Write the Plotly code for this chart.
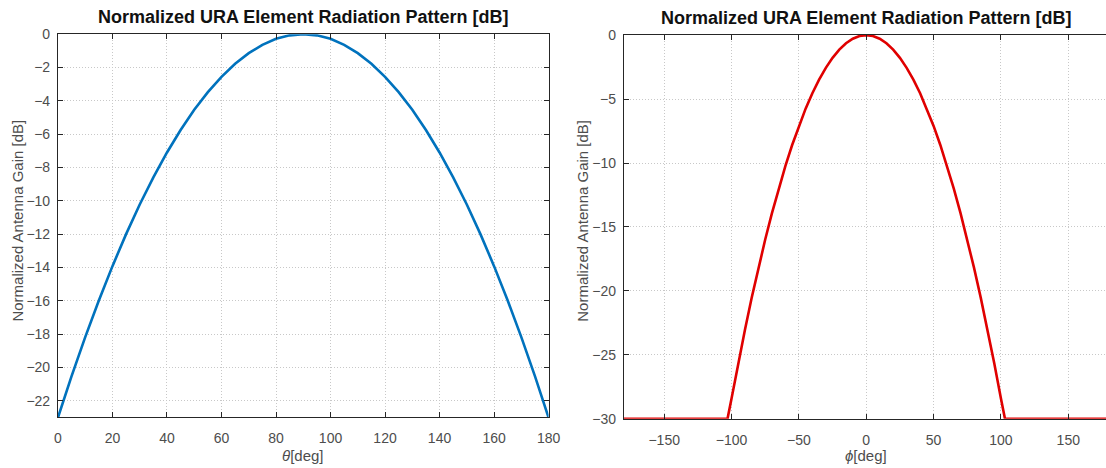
import plotly.graph_objects as go

# elevation cut (theta) values
theta = list(range(0, 181, 5))
gain_theta = [-23.01, -20.52, -18.18, -15.98, -13.92, -12.00, -10.22, -8.59, -7.10,
              -5.75, -4.54, -3.48, -2.56, -1.78, -1.14, -0.64, -0.28, -0.07, 0.0,
              -0.07, -0.28, -0.64, -1.14, -1.78, -2.56, -3.48, -4.54, -5.75, -7.10,
              -8.59, -10.22, -12.00, -13.92, -15.98, -18.18, -20.52, -23.01]

# azimuth cut (phi) values
phi = [-180, -103] + list(range(-100, 101, 5)) + [103, 180]
gain_phi = [-30.0, -30.0, -28.40, -25.63, -23.01, -20.52, -18.18, -15.98, -13.92, -12.00,
            -10.22, -8.59, -7.10, -5.75, -4.54, -3.48, -2.56, -1.78, -1.14, -0.64,
            -0.28, -0.07, 0.0, -0.07, -0.28, -0.64, -1.14, -1.78, -2.56, -3.48,
            -4.54, -5.75, -7.10, -8.59, -10.22, -12.00, -13.92, -15.98, -18.18,
            -20.52, -23.01, -25.63, -28.40, -30.0, -30.0]

title = "Normalized URA Element Radiation Pattern [dB]"
ylab = "Normalized Antenna Gain [dB]"

font = "Liberation Sans, Arial, sans-serif"
tick_col = "#4d4d4d"
grid_col = "#c8c8c8"

fig = go.Figure()
fig.add_trace(go.Scatter(x=theta, y=gain_theta, mode="lines",
                         line=dict(color="#0072BD", width=2.6),
                         xaxis="x", yaxis="y", showlegend=False))
fig.add_trace(go.Scatter(x=phi, y=gain_phi, mode="lines",
                         line=dict(color="#E00000", width=2.6),
                         xaxis="x2", yaxis="y2", showlegend=False))

common = dict(showline=True, linecolor="#262626", linewidth=1, ticks="inside",
              ticklen=5, tickcolor="#262626", showgrid=True, gridcolor=grid_col,
              griddash="1px,2px", gridwidth=1, zeroline=False, automargin=False,
              tickfont=dict(family=font, size=14, color=tick_col))


def note(text, x, y, size=15, color=tick_col, angle=0):
    return dict(text=text, x=x, y=y, xref="paper", yref="paper", xanchor="center",
                yanchor="middle", textangle=angle, showarrow=False,
                font=dict(family=font, size=size, color=color))


fig.update_layout(
    width=1106, height=468,
    margin=dict(l=0, r=0, t=0, b=0),
    plot_bgcolor="white", paper_bgcolor="white",
    xaxis=dict(domain=[0.0524, 0.496], range=[0, 180], dtick=20, anchor="y",
               mirror="ticks", ticklabelstandoff=8, **common),
    yaxis=dict(domain=[0.108, 0.927], range=[-23, 0], tickvals=list(range(-22, 1, 2)),
               anchor="x", mirror="ticks", ticklabelstandoff=4, **common),
    xaxis2=dict(domain=[0.564, 1.0], range=[-180, 178], tickvals=[-150, -100, -50, 0, 50, 100, 150],
                anchor="y2", mirror="ticks", ticklabelstandoff=8, **common),
    yaxis2=dict(domain=[0.105, 0.925], range=[-30, 0], dtick=5, anchor="x2",
                mirror=False, ticklabelstandoff=4, **common),
    annotations=[
        note("<b>" + title + "</b>", 0.274, 0.964, size=18, color="#111111"),
        note("<i>θ</i>[deg]", 0.274, 0.027),
        note(ylab, 0.016, 0.528, angle=-90),
        note("<b>" + title + "</b>", 0.783, 0.962, size=18, color="#111111"),
        note("<i>ϕ</i>[deg]", 0.783, 0.027),
        note(ylab, 0.527, 0.528, angle=-90),
    ],
)

fig.write_html("out.html", config={"displayModeBar": False},
               post_script="document.body.style.margin='0px';")
